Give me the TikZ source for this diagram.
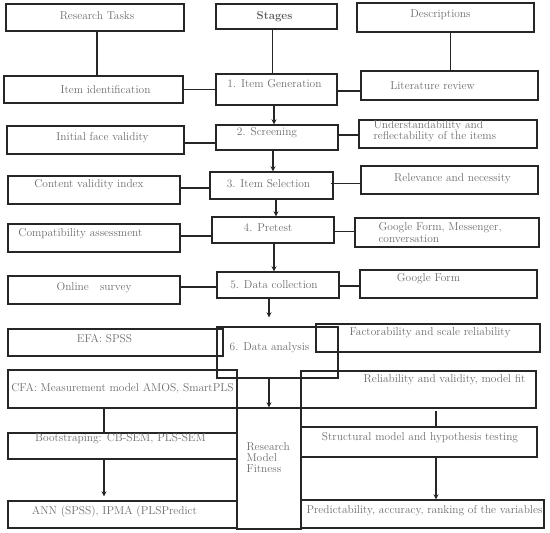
\documentclass[tikz,border=0pt]{standalone}
\usepackage{fontspec}
\usetikzlibrary{calc, arrows.meta}

\definecolor{txtgray}{RGB}{108,108,108}

\begin{document}
\begin{tikzpicture}[x=1pt, y=-1pt,
  box/.style={draw=black!85, line width=1.4pt, inner sep=0pt},
  txt/.style={text=txtgray, inner sep=0pt, font=\fontsize{11.4}{11.2}\selectfont, align=left},
  link/.style={draw=black!85, line width=1.4pt},
  arr/.style={link, -{Stealth[length=5pt, width=5pt]}}]

\useasboundingbox (0,0) rectangle (550,533);

% column heads
\node[box, minimum width=178, minimum height=27, label={[txt, xshift=2, yshift=2]center:Research Tasks}] (tasks) at (95,17.5) {};
\node[box, minimum width=121, minimum height=25, label={[txt, text=black!65, font=\fontsize{11.4}{11}\selectfont\bfseries, xshift=-2]center:Stages}] (stages) at (276.5,16.5) {};
\node[box, minimum width=177, minimum height=29, label={[txt, xshift=-5, yshift=3]center:Descriptions}] (desc) at (445.5,17.5) {};

% stage 1
\node[box, minimum width=179, minimum height=27, label={[txt, xshift=12]center:Item identification}] (itemid) at (93.5,89.5) {};
\node[box, minimum width=121, minimum height=31, label={[txt, xshift=-2, yshift=6]center:1. Item Generation}] (gen) at (276.5,89.5) {};
\node[box, minimum width=177, minimum height=29, label={[txt, xshift=-17]center:Literature review}] (lit) at (449.5,85.5) {};

% stage 2
\node[box, minimum width=177, minimum height=28, label={[txt, xshift=7, yshift=2]center:Initial face validity}] (face) at (95.5,140) {};
\node[box, minimum width=122, minimum height=25, label={[txt, xshift=-10, yshift=5]center:2. Screening}] (screen) at (277,137.5) {};
\node[box, minimum width=178, minimum height=28, label={[txt, anchor=west, xshift=15, yshift=2.5]west:Understandability and\\reflectability of the items}] (under) at (448,134) {};

% stage 3
\node[box, minimum width=172, minimum height=28, label={[txt, xshift=-5, yshift=5]center:Content validity index}] (content) at (94,190) {};
\node[box, minimum width=123, minimum height=27, label={[txt, xshift=-3, yshift=2]center:3. Item Selection}] (sel) at (271.5,185.5) {};
\node[box, minimum width=177, minimum height=28, label={[txt, xshift=3, yshift=1]center:Relevance and necessity}] (relev) at (449.5,180) {};

% stage 4
\node[box, minimum width=172, minimum height=28, label={[txt, anchor=west, xshift=11, yshift=4]west:Compatibility assessment}] (compat) at (94,238) {};
\node[box, minimum width=122, minimum height=26, label={[txt, xshift=-5, yshift=2]center:4. Pretest}] (pre) at (273,230) {};
\node[box, minimum width=184, minimum height=29, label={[txt, anchor=west, xshift=24]west:Google Form, Messenger,\\conversation}] (gfm) at (447,232.5) {};

% stage 5
\node[box, minimum width=172, minimum height=28, label={[txt, yshift=2]center:Online \ \ survey}] (online) at (94,290) {};
\node[box, minimum width=122, minimum height=26, label={[txt, xshift=-4]center:5. Data collection}] (coll) at (278,285) {};
\node[box, minimum width=177, minimum height=28, label={[txt, xshift=-20, yshift=5]center:Google Form}] (gf) at (448.5,284) {};

% stage 6
\node[box, minimum width=215, minimum height=27, label={[txt, xshift=-11, yshift=3.5]center:EFA: SPSS}] (efa) at (115.5,342.5) {};
\node[box, minimum width=121, minimum height=51, label={[txt, xshift=-8, yshift=4.5]center:6. Data analysis}] (ana) at (277.5,352.5) {};
\node[box, minimum width=224, minimum height=28, label={[txt, xshift=2, yshift=5]center:Factorability and scale reliability}] (fact) at (428,338) {};

\node[box, minimum width=229, minimum height=38, label={[txt]center:CFA: Measurement model AMOS, SmartPLS}] (cfa) at (122.5,389) {};
\node[box, minimum width=235, minimum height=37, label={[txt, xshift=26, yshift=10]center:Reliability and validity, model fit}] (rel) at (418.5,389.5) {};
\node[box, minimum width=64, minimum height=121, label={[txt, anchor=west, xshift=10, yshift=11]west:Research\\Model\\Fitness}] (rmf) at (269,468.5) {};

\node[box, minimum width=229, minimum height=26, label={[txt, xshift=-2, yshift=7]center:Bootstraping: CB-SEM, PLS-SEM}] (boot) at (122.5,446) {};
\node[box, minimum width=236, minimum height=30, label={[txt, xshift=1, yshift=4]center:Structural model and hypothesis testing}] (struct) at (419,442) {};

\node[box, minimum width=229, minimum height=27, label={[txt, xshift=-8, yshift=2.5]center:ANN (SPSS), IPMA (PLSPredict}] (ann) at (122.5,514.5) {};
\node[box, minimum width=243, minimum height=28, label={[txt, xshift=2, yshift=3]center:Predictability, accuracy, ranking of the variables}] (pred) at (422.5,514) {};

% heads to first row
\draw[link] ([xshift=2]tasks.south) -- ([xshift=2]tasks.south |- itemid.north);
\draw[link] ([xshift=-4]stages.south) -- ([xshift=-4]stages.south |- gen.north);
\draw[link] ([xshift=5]desc.south) -- ([xshift=5]desc.south |- lit.north);

% side links
\draw[link] (itemid.east) -- (itemid.east -| gen.west);
\draw[link] ([yshift=-1.5]gen.east) -- ([yshift=-1.5]gen.east -| lit.west);
\draw[link] ([yshift=-3]face.east) -- ([yshift=-3]face.east -| screen.west);
\draw[link] ([yshift=2.5]screen.east) -- ([yshift=2.5]screen.east -| under.west);
\draw[link] ([yshift=2]content.east) -- ([yshift=2]content.east -| sel.west);
\draw[link] ([xshift=-3, yshift=2]sel.east) -- ([yshift=2]sel.east -| relev.west);
\draw[link] ([yshift=2]compat.east) -- ([yshift=2]compat.east -| pre.west);
\draw[link] ([yshift=-1.5]pre.east) -- ([yshift=-1.5]pre.east -| gfm.west);
\draw[link] ([yshift=3]online.east) -- ([yshift=3]online.east -| coll.west);
\draw[link] ([yshift=-1]coll.east) -- ([yshift=-1]coll.east -| gf.west);

% stage flow
\draw[arr] ([xshift=-2.5]gen.south) -- ([xshift=-2.5]gen.south |- screen.north);
\draw[arr] ([xshift=-4]screen.south) -- ([xshift=-4]screen.south |- sel.north);
\draw[arr] ([xshift=4.5]sel.south) -- ([xshift=4.5]sel.south |- pre.north);
\draw[arr] ([xshift=1]pre.south) -- ([xshift=1]pre.south |- coll.north);
\draw[arr, shorten >=9pt] ([xshift=-9]coll.south) -- ([xshift=-9]coll.south |- ana.north);
\draw[arr] (ana.south -| rmf.north) -- (rmf.north);

% analysis branches
\draw[link] ([xshift=-18.5]cfa.south) -- ([xshift=-18.5]cfa.south |- boot.north);
\draw[arr, shorten >=4pt] ([xshift=-18.5]boot.south) -- ([xshift=-18.5]boot.south |- ann.north);
\draw[link, shorten <=2pt] ([xshift=17.5]rel.south) -- ([xshift=17.5]rel.south |- struct.north);
\draw[arr] ([xshift=17]struct.south) -- ([xshift=17]struct.south |- pred.north);

\end{tikzpicture}
\end{document}
